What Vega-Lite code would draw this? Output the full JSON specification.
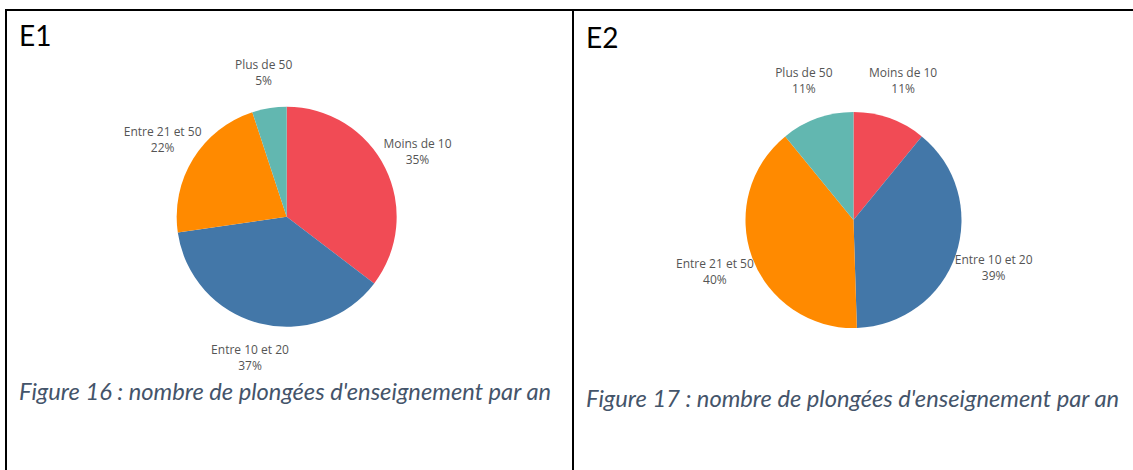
{
  "$schema": "https://vega.github.io/schema/vega-lite/v6.json",
  "autosize": {"type": "pad"},
  "padding": {"left": 5, "top": 9, "right": 0, "bottom": 0},
  "background": "white",
  "spacing": 0,
  "bounds": "flush",
  "config": {
    "view": {"stroke": "black", "strokeWidth": 2},
    "font": "Open Sans"
  },
  "hconcat": [
    {
      "width": 567,
      "height": 470,
      "title": {
        "text": "E1",
        "subtitle": "Figure 16 : nombre de plongées d'enseignement par an",
        "orient": "top",
        "anchor": "start",
        "frame": "group",
        "offset": -394.5,
        "dx": 13,
        "font": "Lato",
        "fontSize": 28,
        "fontWeight": "normal",
        "color": "black",
        "subtitleFont": "Lato",
        "subtitleFontSize": 23.7,
        "subtitleFontStyle": "italic",
        "subtitleColor": "#44546A",
        "subtitlePadding": 329
      },
      "data": {"values": [
        {"fig": "E1", "cat": "Moins de 10", "ord": 1, "share": 0.35},
        {"fig": "E1", "cat": "Entre 10 et 20", "ord": 2, "share": 0.37},
        {"fig": "E1", "cat": "Entre 21 et 50", "ord": 3, "share": 0.22},
        {"fig": "E1", "cat": "Plus de 50", "ord": 4, "share": 0.05}
      ]},
      "encoding": {
        "theta": {"field": "share", "type": "quantitative", "stack": true},
        "order": {"field": "ord", "type": "quantitative"},
        "x": {"field": "fig", "type": "nominal", "scale": {"type": "point", "align": 0.495}, "axis": null},
        "y": {"field": "fig", "type": "nominal", "scale": {"type": "point", "align": 0.44}, "axis": null}
      },
      "layer": [
        {
          "mark": {"type": "arc", "outerRadius": 110},
          "encoding": {
            "color": {"field": "cat", "type": "nominal", "legend": null,
              "scale": {"domain": ["Moins de 10", "Entre 10 et 20", "Entre 21 et 50", "Plus de 50"],
                        "range": ["#F14B55", "#4377A8", "#FF8A00", "#62B7B0"]}}
          }
        },
        {
          "mark": {"type": "text", "radius": 146, "dy": -8, "fontSize": 12, "color": "#555555"},
          "encoding": {"text": {"field": "cat"}, "detail": {"field": "cat"}}
        },
        {
          "mark": {"type": "text", "radius": 146, "dy": 8, "fontSize": 12, "color": "#555555"},
          "encoding": {"text": {"field": "share", "type": "quantitative", "format": ".0%"}, "detail": {"field": "cat"}}
        }
      ]
    },
    {
      "width": 561,
      "height": 470,
      "title": {
        "text": "E2",
        "subtitle": "Figure 17 : nombre de plongées d'enseignement par an",
        "orient": "top",
        "anchor": "start",
        "frame": "group",
        "offset": -401.5,
        "dx": 13,
        "font": "Lato",
        "fontSize": 28,
        "fontWeight": "normal",
        "color": "black",
        "subtitleFont": "Lato",
        "subtitleFontSize": 23.7,
        "subtitleFontStyle": "italic",
        "subtitleColor": "#44546A",
        "subtitlePadding": 334
      },
      "data": {"values": [
        {"fig": "E2", "cat": "Moins de 10", "ord": 1, "share": 0.11},
        {"fig": "E2", "cat": "Entre 10 et 20", "ord": 2, "share": 0.39},
        {"fig": "E2", "cat": "Entre 21 et 50", "ord": 3, "share": 0.40},
        {"fig": "E2", "cat": "Plus de 50", "ord": 4, "share": 0.11}
      ]},
      "encoding": {
        "theta": {"field": "share", "type": "quantitative", "stack": true},
        "order": {"field": "ord", "type": "quantitative"},
        "y": {"field": "fig", "type": "nominal", "scale": {"type": "point", "align": 0.447}, "axis": null}
      },
      "layer": [
        {
          "mark": {"type": "arc", "outerRadius": 108},
          "encoding": {
            "color": {"field": "cat", "type": "nominal", "legend": null,
              "scale": {"domain": ["Moins de 10", "Entre 10 et 20", "Entre 21 et 50", "Plus de 50"],
                        "range": ["#F14B55", "#4377A8", "#FF8A00", "#62B7B0"]}}
          }
        },
        {
          "mark": {"type": "text", "radius": 148, "dy": -8, "fontSize": 12, "color": "#555555"},
          "encoding": {"text": {"field": "cat"}, "detail": {"field": "cat"}}
        },
        {
          "mark": {"type": "text", "radius": 148, "dy": 8, "fontSize": 12, "color": "#555555"},
          "encoding": {"text": {"field": "share", "type": "quantitative", "format": ".0%"}, "detail": {"field": "cat"}}
        }
      ]
    }
  ]
}
